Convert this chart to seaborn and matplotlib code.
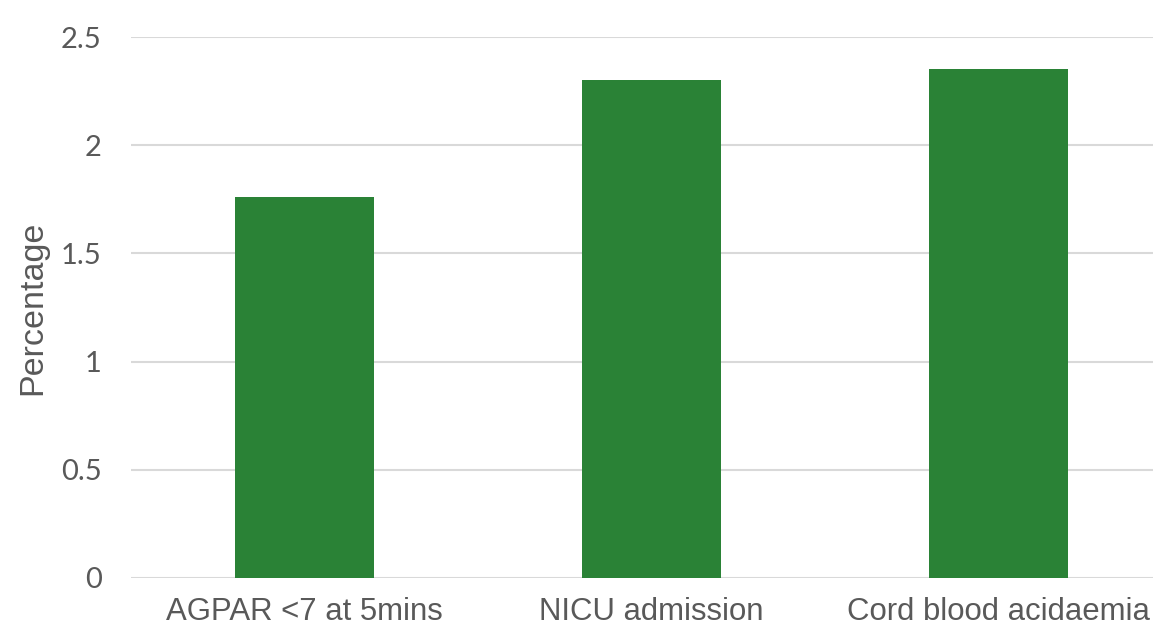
import matplotlib
matplotlib.use("Agg")
import matplotlib.pyplot as plt
import seaborn as sns
import pandas as pd

categories = ["AGPAR <7 at 5mins", "NICU admission", "Cord blood acidaemia"]
percentages = [1.76, 2.30, 2.35]

df = pd.DataFrame({"outcome": categories, "pct": percentages})

sns.set_style("white")
text_col = "#595959"

fig = plt.figure(figsize=(11.53, 6.29), dpi=100)
ax = fig.add_axes([131 / 1153, 1 - 578 / 629, 1041 / 1153, (578 - 37) / 629])

sns.barplot(data=df, x="outcome", y="pct", color="#2A8236", saturation=1,
            width=0.4, linewidth=0, ax=ax, zorder=3)

ax.set_ylim(0, 2.5)
ax.set_yticks([0, 0.5, 1, 1.5, 2, 2.5])
ax.set_yticklabels(["0", "0.5", "1", "1.5", "2", "2.5"])
ax.yaxis.grid(True, color="#D9D9D9", linewidth=1.5, zorder=0)
for s in ax.spines.values():
    s.set_visible(False)
ax.tick_params(axis="both", length=0)
ax.tick_params(axis="y", pad=21, labelsize=21, labelcolor=text_col)
ax.tick_params(axis="x", pad=14, labelsize=22.4, labelcolor=text_col)
for lab in ax.get_yticklabels():
    lab.set_family("Lato")
for lab in ax.get_xticklabels():
    lab.set_family("Liberation Sans")

ax.set_xlabel("")
ax.set_ylabel("Percentage", fontsize=24.5, color=text_col, family="Liberation Sans", labelpad=9)

fig.savefig("out.png", dpi=100)
